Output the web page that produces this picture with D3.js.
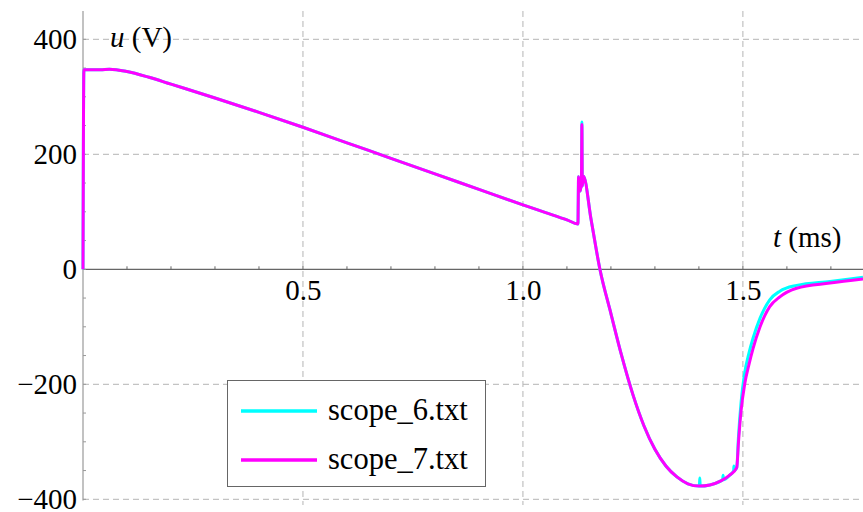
<!DOCTYPE html>
<html>
<head>
<meta charset="utf-8">
<script src="https://cdn.jsdelivr.net/npm/d3@7"></script>
<style>
  body { margin: 0; background: #fff; }
  svg text { font-family: "Liberation Serif", "Times New Roman", serif; fill: #000; }
</style>
</head>
<body>
<svg id="chart" width="863" height="512"></svg>
<script>
// time in ms, voltage in V
const scope7T = [0, 0.002, 0.04, 0.06, 0.1, 0.15, 0.2, 0.3, 0.4, 0.5, 0.6, 0.7, 0.8, 0.9, 1.0, 1.05, 1.1, 1.125,
  1.1265, 1.13, 1.133, 1.134, 1.135, 1.1375, 1.155, 1.175, 1.2, 1.225, 1.25, 1.275, 1.3, 1.325, 1.35, 1.375, 1.4, 1.425, 1.45, 1.47, 1.486,
  1.49, 1.496, 1.504, 1.514, 1.523, 1.539, 1.561, 1.584, 1.622, 1.698, 1.773];
const scope7U = [0, 347, 347, 348, 344, 334, 322, 298, 273, 247, 220, 193, 166, 139, 112, 99, 86, 79,
  161, 136, 160, 252, 145, 162, 86, 0, -77, -152, -218, -272, -313, -342, -361, -373, -377, -375, -368, -358, -345,
  -300, -245, -200, -165, -138, -100, -65, -48, -33, -24, -17];

const scope6T = [0, 0.002, 0.04, 0.06, 0.1, 0.15, 0.2, 0.3, 0.4, 0.5, 0.6, 0.7, 0.8, 0.9, 1.0, 1.05, 1.1, 1.125,
  1.1265, 1.13, 1.133, 1.134, 1.135, 1.1375, 1.155, 1.175, 1.2, 1.225, 1.25, 1.275, 1.3, 1.325, 1.35, 1.375, 1.401, 1.402, 1.403, 1.425,
  1.45, 1.454, 1.455, 1.456, 1.47, 1.479, 1.4795, 1.48, 1.486,
  1.49, 1.496, 1.503, 1.514, 1.523, 1.539, 1.561, 1.584, 1.622, 1.698, 1.773];
const scope6U = [0, 347, 347, 348, 344, 334, 322, 298, 273, 247, 220, 193, 166, 139, 112, 99, 86, 79,
  161, 136, 160, 256, 145, 162, 86, 0, -77, -152, -218, -272, -313, -342, -361, -373, -377, -363, -377, -375,
  -368, -366, -358, -366, -358, -350, -342, -350, -345,
  -290, -230, -185, -145, -120, -85, -53, -38, -28, -21, -14];

const seriesNames = ["scope_6.txt", "scope_7.txt"];
const seriesColors = ["#00ffff", "#ff00ff"];

const xTicks = [0.5, 1.0, 1.5];
const yTicks = [-400, -200, 0, 200, 400];
const xMinor = d3.range(1, 18).map(i => i / 10);
const yMinor = d3.range(-400, 401, 50);

const svg = d3.select("#chart");
const pLeft = 83, pRight = 863, pTop = 11, pBottom = 505;

const x = d3.scaleLinear().domain([0, 1.773]).range([pLeft, pRight]);
const y = d3.scaleLinear().domain([-400, 400]).range([499.3, 39.3]);

// grid
svg.append("g").selectAll("line")
  .data(xTicks).join("line")
  .attr("x1", d => x(d)).attr("x2", d => x(d))
  .attr("y1", pTop).attr("y2", pBottom)
  .attr("stroke", "#b4b4b4").attr("stroke-width", 1).attr("stroke-dasharray", "6,4");
svg.append("g").selectAll("line")
  .data(yTicks.filter(d => d !== 0)).join("line")
  .attr("x1", pLeft).attr("x2", pRight)
  .attr("y1", d => y(d)).attr("y2", d => y(d))
  .attr("stroke", "#b4b4b4").attr("stroke-width", 1).attr("stroke-dasharray", "6,4");

// axes lines and minor ticks
svg.append("line")
  .attr("x1", pLeft).attr("x2", pRight).attr("y1", y(0)).attr("y2", y(0))
  .attr("stroke", "#666").attr("stroke-width", 1.2);
svg.append("line")
  .attr("x1", x(0)).attr("x2", x(0)).attr("y1", pTop).attr("y2", y(-402))
  .attr("stroke", "#999").attr("stroke-width", 1.2);
svg.append("g").selectAll("line")
  .data(xMinor).join("line")
  .attr("x1", d => x(d)).attr("x2", d => x(d))
  .attr("y1", y(0)).attr("y2", y(0) - 3)
  .attr("stroke", "#666");
svg.append("g").selectAll("line")
  .data(yMinor).join("line")
  .attr("x1", x(0)).attr("x2", x(0) + 3)
  .attr("y1", d => y(d)).attr("y2", d => y(d))
  .attr("stroke", "#999");

// tick labels via axes
const fmtY = d => d < 0 ? "\u2212" + Math.abs(d) : String(d);
const gx = svg.append("g")
  .attr("transform", `translate(0,${y(0)})`)
  .call(d3.axisBottom(x).tickValues(xTicks).tickFormat(d3.format(".1f")).tickSize(0).tickPadding(10));
const gy = svg.append("g")
  .attr("transform", `translate(${x(0)},0)`)
  .call(d3.axisLeft(y).tickValues(yTicks).tickFormat(fmtY).tickSize(0).tickPadding(6));
[gx, gy].forEach(g => {
  g.select(".domain").remove();
  g.selectAll("text").style("font-family", '"Liberation Serif", "Times New Roman", serif').style("font-size", "29px").attr("fill", "#000");
});

// axis labels
const ul = svg.append("text").attr("x", 110).attr("y", 47).style("font-size", "29px");
ul.append("tspan").style("font-style", "italic").text("u");
ul.append("tspan").text(" (V)");
const tl = svg.append("text").attr("x", 773).attr("y", 247).style("font-size", "29px");
tl.append("tspan").style("font-style", "italic").text("t");
tl.append("tspan").text(" (ms)");

// data lines
svg.append("clipPath").attr("id", "clip")
  .append("rect").attr("x", pLeft - 2).attr("y", pTop).attr("width", pRight - pLeft + 2).attr("height", pBottom - pTop);

const line = d3.line().x(d => x(d[0])).y(d => y(d[1])).curve(d3.curveMonotoneX);
const s6 = scope6T.map((t, i) => [t, scope6U[i]]);
const s7 = scope7T.map((t, i) => [t, scope7U[i]]);

const plot = svg.append("g").attr("clip-path", "url(#clip)");
[s6, s7].forEach((s, i) => {
  plot.append("path")
    .datum(s)
    .attr("fill", "none")
    .attr("stroke", seriesColors[i])
    .attr("stroke-width", 3)
    .attr("stroke-linejoin", "round")
    .attr("d", line);
});

// legend
const lg = svg.append("g");
lg.append("rect").attr("x", 227.5).attr("y", 380.5).attr("width", 258).attr("height", 106)
  .attr("fill", "#fff").attr("stroke", "#666").attr("stroke-width", 1);
seriesNames.forEach((name, i) => {
  const yy = 411 + i * 49;
  lg.append("line").attr("x1", 241).attr("x2", 317).attr("y1", yy).attr("y2", yy)
    .attr("stroke", seriesColors[i]).attr("stroke-width", 3.5);
  lg.append("text").attr("x", 328).attr("y", yy + 9).style("font-size", "30.5px").text(name);
});
</script>
</body>
</html>
